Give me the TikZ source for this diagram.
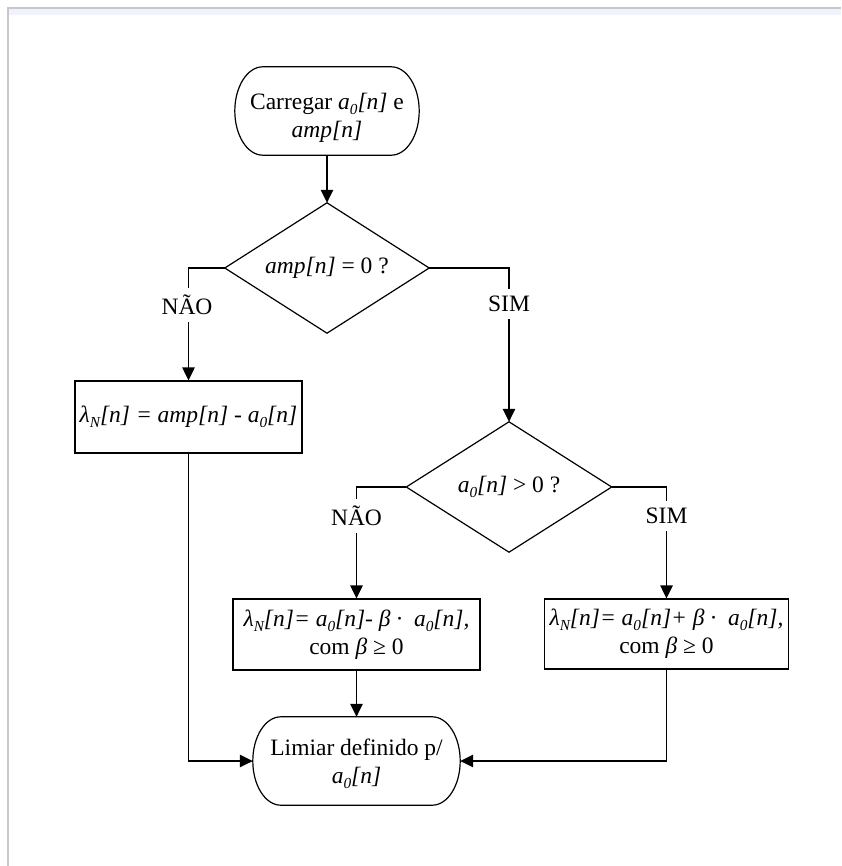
\documentclass[tikz,border=0pt]{standalone}
\usepackage{fontspec}
\setmainfont{Liberation Serif}
\usetikzlibrary{arrows.meta,calc,backgrounds}
\newcommand\lo[1]{\raisebox{-0.22em}{\scalebox{0.65}{#1}}}
\definecolor{glowc}{HTML}{E4ECF6}
\definecolor{framec}{HTML}{C8C8C8}
\begin{document}
\begin{tikzpicture}[x=1pt,y=-1pt,
  every node/.style={font=\fontsize{23.5}{28}\selectfont},
  txt/.style={align=center, inner sep=0pt},
  procbox/.style={draw, fill=white, line width=1.2pt, align=center, inner sep=0pt},
  holder/.style={draw=none, inner sep=0pt, minimum width=#1},
  outline/.style={draw, fill=white, line width=1.2pt},
  glow/.style={draw=glowc, line width=5pt},
  conn/.style={line width=1.2pt, -{Triangle[length=13pt,width=12.5pt]}},
  lab/.style={fill=white, inner xsep=2pt, inner ysep=7pt}
]
\useasboundingbox (0,0) rectangle (841,866);
\fill[white] (0,0) rectangle (841,866);
\fill[glowc!60] (9,9) rectangle (841,15);
\draw[framec, line width=1.2pt] (8,866) -- (8,8) -- (841,8);

% terminal holders
\node[holder=184pt, minimum height=88pt] (t1) at (327,111) {};
\node[holder=207pt, minimum height=88pt] (t2) at (356.5,761) {};
% diamonds
\node[holder=204pt, minimum height=130pt] (d1) at (327,268) {};
\node[holder=205pt, minimum height=130pt] (d2) at (509,487) {};

% glows
\begin{scope}[on background layer]
\foreach \t in {t1,t2}{
  \draw[glow] ([xshift=28pt,yshift=-2pt]\t.north west) -- ([xshift=-28pt,yshift=-2pt]\t.north east)
    .. controls ([xshift=-12.5pt,yshift=-2pt]\t.north east) and ([yshift=22.3pt]\t.east) .. ([yshift=-2pt]\t.east)
    .. controls ([yshift=-26.3pt]\t.east) and ([xshift=-12.5pt,yshift=-2pt]\t.south east) .. ([xshift=-28pt,yshift=-2pt]\t.south east)
    -- ([xshift=28pt,yshift=-2pt]\t.south west)
    .. controls ([xshift=12.5pt,yshift=-2pt]\t.south west) and ([yshift=-26.3pt]\t.west) .. ([yshift=-2pt]\t.west)
    .. controls ([yshift=22.3pt]\t.west) and ([xshift=12.5pt,yshift=-2pt]\t.north west) .. cycle;
}
\end{scope}

% terminal outlines
\foreach \t in {t1,t2}{
  \draw[outline] ([xshift=28pt]\t.north west) -- ([xshift=-28pt]\t.north east)
    .. controls ([xshift=-12.5pt]\t.north east) and ([yshift=24.3pt]\t.east) .. (\t.east)
    .. controls ([yshift=-24.3pt]\t.east) and ([xshift=-12.5pt]\t.south east) .. ([xshift=-28pt]\t.south east)
    -- ([xshift=28pt]\t.south west)
    .. controls ([xshift=12.5pt]\t.south west) and ([yshift=-24.3pt]\t.west) .. (\t.west)
    .. controls ([yshift=24.3pt]\t.west) and ([xshift=12.5pt]\t.north west) .. cycle;
}
% diamond outlines
\draw[outline] (d1.north) -- (d1.east) -- (d1.south) -- (d1.west) -- cycle;
\draw[outline] (d2.north) -- (d2.east) -- (d2.south) -- (d2.west) -- cycle;

% texts
\node[txt] (t1txt) at (327,118) {Carregar \textit{a\lo{0}[n]} e\\\textit{amp[n]}};
\node[txt] (t2txt) at (356.5,764) {Limiar definido p/\\\textit{a\lo{0}[n]}};
\node[txt] (d1txt) at (327,268) {\textit{amp[n]} = 0 ?};
\node[txt] (d2txt) at (509,487) {\textit{a\lo{0}[n]} {\char"003E} 0 ?};

% process boxes
\node[procbox, minimum width=227pt, minimum height=72pt] (b1) at (188.5,417)
  {\textit{λ\lo{N}[n] = amp[n] - a\lo{0}[n]}};
\node[procbox, minimum width=247pt, minimum height=71pt] (b2) at (356.5,634.5)
  {\textit{λ\lo{N}[n]= a\lo{0}[n]- β ·\enspace a\lo{0}[n],}\\com \textit{β} ≥ 0};
\node[procbox, minimum width=244pt, minimum height=70pt] (b3) at (666.5,634)
  {\textit{λ\lo{N}[n]= a\lo{0}[n]+ β ·\enspace a\lo{0}[n],}\\com \textit{β} ≥ 0};

\begin{scope}[on background layer]
\foreach \b in {b1,b2,b3}{
  \draw[glow] ([yshift=-2pt]\b.north west) rectangle ([yshift=-2pt]\b.south east);
}
\end{scope}

% connectors
\draw[conn] (t1.south) -- (d1.north);
\draw[conn] (d1.west) -| (b1.north);
\draw[conn] (d1.east) -| (d2.north);
\draw[conn] (d2.west) -| (b2.north);
\draw[conn] (d2.east) -| (b3.north);
\draw[conn] (b2.south) -- (t2.north);
\draw[conn] (b1.south) |- (t2.west);
\draw[conn] (b3.south) |- (t2.east);

% labels
\node[lab] (l1) at (187,305) {NÃO};
\node[lab] (l2) at (509,304) {SIM};
\node[lab] (l3) at (356.5,516) {NÃO};
\node[lab] (l4) at (666.5,516) {SIM};
\end{tikzpicture}
\end{document}
